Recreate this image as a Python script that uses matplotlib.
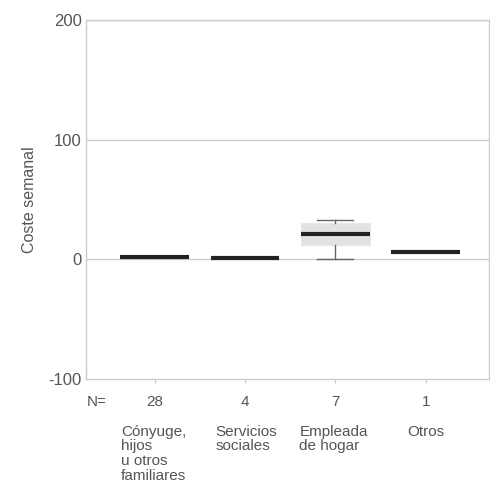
import matplotlib
matplotlib.use("Agg")
import matplotlib.pyplot as plt

# Weekly cost per type of caregiver
categories = ["Cónyuge,\nhijos\nu otros\nfamiliares", "Servicios\nsociales",
              "Empleada\nde hogar", "Otros"]
counts = [28, 4, 7, 1]
medians = [2, 1, 21, 6]
q1 = [2, 1, 12, 6]
q3 = [2, 1, 30, 6]
whis_lo = [2, 1, 0, 6]
whis_hi = [2, 1, 33, 6]

plt.rcParams["font.family"] = ["Liberation Sans", "DejaVu Sans"]
plt.rcParams["hatch.color"] = "#c4c4c4"
plt.rcParams["hatch.linewidth"] = 0.6
text_col = "#555555"
line_col = "#cccccc"

fig = plt.figure(figsize=(4.9, 4.9), dpi=100)
ax = fig.add_axes([0.1755, 0.2265, 0.8225, 0.7325])

stats = []
for i in range(len(categories)):
    stats.append({"med": medians[i], "q1": q1[i], "q3": q3[i],
                  "whislo": whis_lo[i], "whishi": whis_hi[i], "fliers": []})

pos = list(range(1, len(categories) + 1))
ax.bxp(stats, positions=pos, widths=0.76, patch_artist=True,
       boxprops=dict(facecolor="#e2e2e2", edgecolor="#e6e6e6", linewidth=0.8,
                     hatch="...."),
       medianprops=dict(color="#222222", linewidth=3.0, solid_capstyle="butt"),
       whiskerprops=dict(color="#666666", linewidth=1.0),
       capprops=dict(color="#666666", linewidth=1.0),
       capwidths=0.4)

ax.set_xlim(0.24, 4.7)
ax.set_ylim(-100, 200)
ax.set_yticks([-100, 0, 100, 200])
ax.set_yticklabels(["-100", "0", "100", "200"])
for y in [0, 100, 200]:
    ax.axhline(y, color=line_col, linewidth=1.0, zorder=0)

ax.set_xticks(pos)
ax.set_xticklabels([])
ax.tick_params(axis="x", length=3, color=line_col)
ax.tick_params(axis="y", length=0, labelsize=12, labelcolor=text_col, pad=3)
for s in ax.spines.values():
    s.set_color(line_col)
    s.set_linewidth(1.0)

ax.set_ylabel("Coste semanal", fontsize=11.5, color=text_col, labelpad=8)

# N counts and category labels below the axis
label_shift = [-0.37, -0.33, -0.40, -0.21]
trans = ax.get_xaxis_transform()
ax.text(0.36, -0.065, "N=", transform=trans, ha="center", va="center",
        fontsize=11, color=text_col)
for p, n, lab, dx in zip(pos, counts, categories, label_shift):
    ax.text(p, -0.065, str(n), transform=trans, ha="center", va="center",
            fontsize=11, color=text_col)
    ax.text(p + dx, -0.127, lab, transform=trans, ha="left", va="top",
            fontsize=11, color=text_col, linespacing=1.08)

fig.savefig("out.png", dpi=100, facecolor="white")
